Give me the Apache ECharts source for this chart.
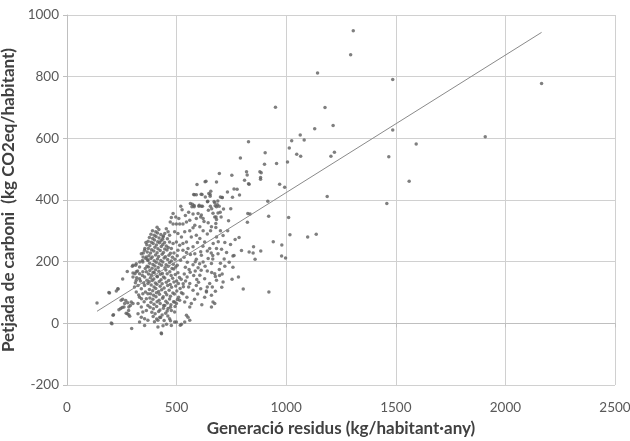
<!DOCTYPE html>
<html>
<head>
<meta charset="utf-8">
<script src="https://cdn.jsdelivr.net/npm/echarts@6/dist/echarts.min.js"></script>
<style>
  html, body { margin: 0; padding: 0; background: #ffffff; }
  #chart { width: 630px; height: 441px; }
</style>
</head>
<body>
<div id="chart"></div>
<script>
// Residus generats per habitant (x) i petjada de carboni per habitant (y), un punt per municipi
const punts = [
  // cua esquerra
  [137,66],[191,100],[194,98],[210,26],[205,-1],[202,1],[233,111],[225,105],[232,112],[254,144],
  [275,168],[245,48],[260,53],[254,78],[268,74],[277,67],[289,58],[281,42],[275,31],[286,23],
  [295,-17],[298,185],[313,188],[318,148],[310,161],[212,28],[237,44],[252,51],[270,33],[282,28],
  [247,75],[263,64],[293,69],[301,64],[282,53],
  // 300-370
  [301,163],[316,167],[331,161],[346,167],[362,167],[301,150],[316,140],[331,145],[354,150],[308,118],
  [324,123],[339,112],[354,123],[369,129],[316,102],[331,85],[346,96],[362,80],[369,96],[324,64],
  [339,53],[346,37],[362,42],[369,58],[339,20],[354,15],[324,31],[331,4],[354,-7],[369,10],
  [332,199],[344,204],[347,215],[359,210],[339,226],[354,237],[362,215],[346,199],[369,204],[316,193],
  [301,188],[331,183],[335,137],[350,131],[312,132],[327,92],[352,70],[340,80],[358,102],[365,140],
  [344,155],[357,178],[322,170],[365,185],
  // nucli inferior
  [378,171],[393,166],[404,174],[419,169],[435,162],[451,173],[469,167],[487,176],[506,164],
  [372,160],[385,157],[398,164],[411,153],[426,159],[440,150],[457,161],[475,155],[494,158],[513,149],
  [381,148],[396,144],[412,151],[429,141],[446,147],[464,139],[482,146],[500,137],[521,143],
  [375,135],[389,139],[403,131],[421,136],[434,128],[453,133],[471,126],[488,134],[508,129],
  [384,124],[397,118],[410,127],[425,120],[443,115],[459,123],[477,117],[496,121],[516,113],[531,119],
  [376,110],[391,106],[405,113],[418,103],[432,109],[449,100],[466,107],[483,98],[501,105],[522,99],
  [381,96],[395,91],[408,99],[422,94],[439,86],[455,93],[472,88],[490,95],[509,85],
  [378,82],[392,78],[406,86],[420,75],[436,81],[451,72],[468,79],[486,70],[504,77],
  [383,68],[397,62],[411,70],[425,64],[441,58],[458,66],[474,60],[493,55],
  [379,52],[394,47],[409,55],[424,43],[440,49],[457,40],[472,52],
  [387,36],[402,31],[418,38],[434,27],[450,33],
  [393,22],[409,14],[427,19],[443,9],[460,24],
  [399,5],[438,-8],[454,-3],[472,8],[415,-12],
  [423,20],[415,10],[430,-31],[431,-34],[468,15],[491,4],[522,-3],[517,-6],[476,-7],[499,4],
  [446,58],[461,48],[476,42],[491,37],[491,69],[499,64],[514,75],[529,96],[537,69],[545,26],
  [552,20],[560,10],[537,4],[560,53],[567,64],
  // nucli superior
  [372,183],[388,179],[401,186],[416,181],[431,188],[447,180],[462,185],[479,178],[496,183],
  [377,195],[392,191],[407,198],[421,193],[437,199],[452,190],[468,197],[485,192],[503,188],
  [369,206],[383,210],[398,203],[413,209],[428,204],[443,212],[459,207],[476,202],[492,208],
  [374,219],[389,215],[404,222],[418,217],[434,224],[449,216],[465,221],[481,214],
  [366,231],[381,228],[396,235],[411,229],[425,236],[440,230],[456,238],[472,227],
  [371,243],[386,239],[401,247],[415,242],[430,249],[446,241],[462,246],
  [364,255],[378,252],[393,259],[408,254],[422,261],[437,256],[453,251],
  [370,266],[385,263],[399,270],[414,265],[429,268],[445,262],
  [376,278],[391,275],[406,282],[420,277],[436,273],
  [383,289],[398,286],[413,293],[428,288],
  [390,300],[405,297],[419,304],
  [355,243],[348,228],[360,262],[411,312],[440,283],[458,274],
  // franja central
  [519,380],[572,386],[580,378],[602,380],[613,380],[641,394],[654,380],[674,391],[682,378],
  [484,356],[496,345],[476,343],[598,356],[613,351],[621,340],[689,358],[674,345],[682,337],
  [471,329],[484,322],[499,322],[514,322],[529,322],[545,329],[560,334],
  [583,318],[606,313],[621,300],[644,326],[659,313],
  [453,307],[461,297],[468,286],[446,291],[438,280],
  [491,297],[506,291],[522,280],[537,297],
  [567,280],[590,286],[606,275],[628,264],
  [682,280],[667,259],[651,243],[682,243],[689,226],
  [468,264],[484,259],[499,264],[514,253],[529,259],[545,264],[476,243],[506,237],[529,237],[552,243],[575,248],
  [583,226],[613,221],[644,210],[621,199],[659,194],
  [488,228],[503,219],[518,205],[534,214],[549,198],[563,223],[540,182],[557,175],[575,190],[590,208],
  [598,180],[612,172],[630,185],[545,230],
  [700,300],[712,285],[690,265],[705,240],[720,262],[733,300],[728,230],[640,290],[655,300],[625,330],
  [610,345],[590,340],[575,355],[555,360],[540,350],[525,368],[510,340],[560,300],[575,310],[595,262],
  [620,250],[640,235],[658,228],[610,232],[700,195],[720,185],[740,198],[695,175],[640,170],[660,165],
  [585,200],[605,193],
  [699,360],[703,345],[666,357],[680,345],[660,372],[645,367],[603,383],[618,380],[570,378],[714,371],
  [747,372],[686,385],[676,381],[694,380],[688,397],[671,395],[642,396],[700,410],[631,410],[708,408],
  [825,356],[835,355],
  // per sota de la tendència
  [606,156],[628,145],[674,161],[651,129],[682,140],[560,129],[590,123],[575,107],[636,102],[659,91],
  [666,69],[628,85],[674,64],[659,53],
  [535,160],[548,150],[562,166],[578,155],[592,142],[541,137],[555,118],[530,128],[585,170],[600,133],
  [610,112],[596,95],[547,85],[582,78],[615,60],[640,118],
  [717,209],[665,220],[665,209],[757,182],[708,160],[696,155],[677,152],[753,143],[782,150],[804,111],
  [921,102],[712,134],[706,117],[663,118],[677,104],[636,105],[767,272],[785,278],[746,256],[851,248],
  [831,231],[849,228],[884,235],[858,208],[796,236],[762,220],[757,218],[979,218],[997,212],[941,265],
  [980,254],[1017,287],[1098,280],[1137,289],[823,328],[737,333],[679,324],[679,311],[920,347],[1011,343],
  // zona alta dispersa
  [951,701],[1177,700],[1130,631],[1064,611],[1082,595],[1025,592],[1014,569],[828,589],[904,553],[1048,548],
  [1066,542],[791,536],[1006,523],[956,518],[901,516],[695,486],[752,480],[819,492],[822,481],[880,492],
  [886,488],[883,473],[883,467],[810,464],[831,451],[828,453],[634,461],[682,458],[593,450],[630,459],
  [970,451],[993,441],[762,436],[776,435],[732,426],[787,416],[755,409],[656,428],[653,418],[616,418],
  [578,418],[590,417],[1187,411],[916,396],[708,408],[647,421],[612,419],[581,417],[653,412],[563,389],
  [580,382],[1143,812],
  // valors extrems
  [1306,949],[1294,871],[1486,791],[1214,642],[1486,627],[1908,605],[2165,778],[1593,582],[1220,555],
  [1204,542],[1468,540],[1561,461],[1459,389]
];

// Recta de regressió lineal: petjada = pendent * residus + ordenada
const pendent = 0.446;
const ordenada = -22;

const xMin = 0, xMax = 2500, xPas = 500;
const yMin = -200, yMax = 1000, yPas = 200;

const titolX = 'Generació residus (kg/habitant·any)';
const titolY = 'Petjada de carboni  (kg CO2eq/habitant)';

const xs = punts.map(p => p[0]);
const xIni = Math.min(...xs), xFi = Math.max(...xs);
const recta = [[xIni, pendent * xIni + ordenada], [xFi, pendent * xFi + ordenada]];

const font = 'Lato, "Open Sans", sans-serif';
const numero = v => String(v);

const chart = echarts.init(document.getElementById('chart'), null, { renderer: 'canvas' });
chart.setOption({
  animation: false,
  backgroundColor: '#ffffff',
  grid: { left: 67, right: 15, top: 15, bottom: 56, containLabel: false, outerBoundsMode: 'none' },
  xAxis: {
    type: 'value', min: xMin, max: xMax, interval: xPas,
    name: titolX, nameLocation: 'middle', nameGap: 35,
    nameTextStyle: { fontFamily: font, fontWeight: 'bold', fontSize: 17, color: '#404040' },
    axisLine: { show: true, lineStyle: { color: '#bfbfbf', width: 1 } },
    axisTick: { show: true, length: 4, lineStyle: { color: '#bfbfbf' } },
    axisLabel: { margin: 16, fontFamily: font, fontSize: 13.5, color: '#595959', formatter: numero },
    splitLine: { show: true, lineStyle: { color: '#d0d0d0', width: 1 } }
  },
  yAxis: {
    type: 'value', min: yMin, max: yMax, interval: yPas,
    name: titolY, nameLocation: 'middle', nameGap: 38, nameRotate: 90,
    nameTextStyle: { fontFamily: font, fontWeight: 'bold', fontSize: 17, color: '#404040' },
    axisLine: { show: true, lineStyle: { color: '#bfbfbf', width: 1 } },
    axisTick: { show: true, length: 4, lineStyle: { color: '#bfbfbf' } },
    axisLabel: { margin: 8, fontFamily: font, fontSize: 13.5, color: '#595959', formatter: numero },
    splitLine: { show: true, lineStyle: { color: '#d0d0d0', width: 1 } }
  },
  series: [
    {
      type: 'scatter', data: punts, symbol: 'circle', symbolSize: 3.5,
      itemStyle: { color: '#5f5f5f' }, z: 3
    },
    {
      type: 'line', data: recta, showSymbol: false, symbol: 'none',
      lineStyle: { color: '#8a8a8a', width: 1 }, z: 4, silent: true
    }
  ]
});
</script>
</body>
</html>
